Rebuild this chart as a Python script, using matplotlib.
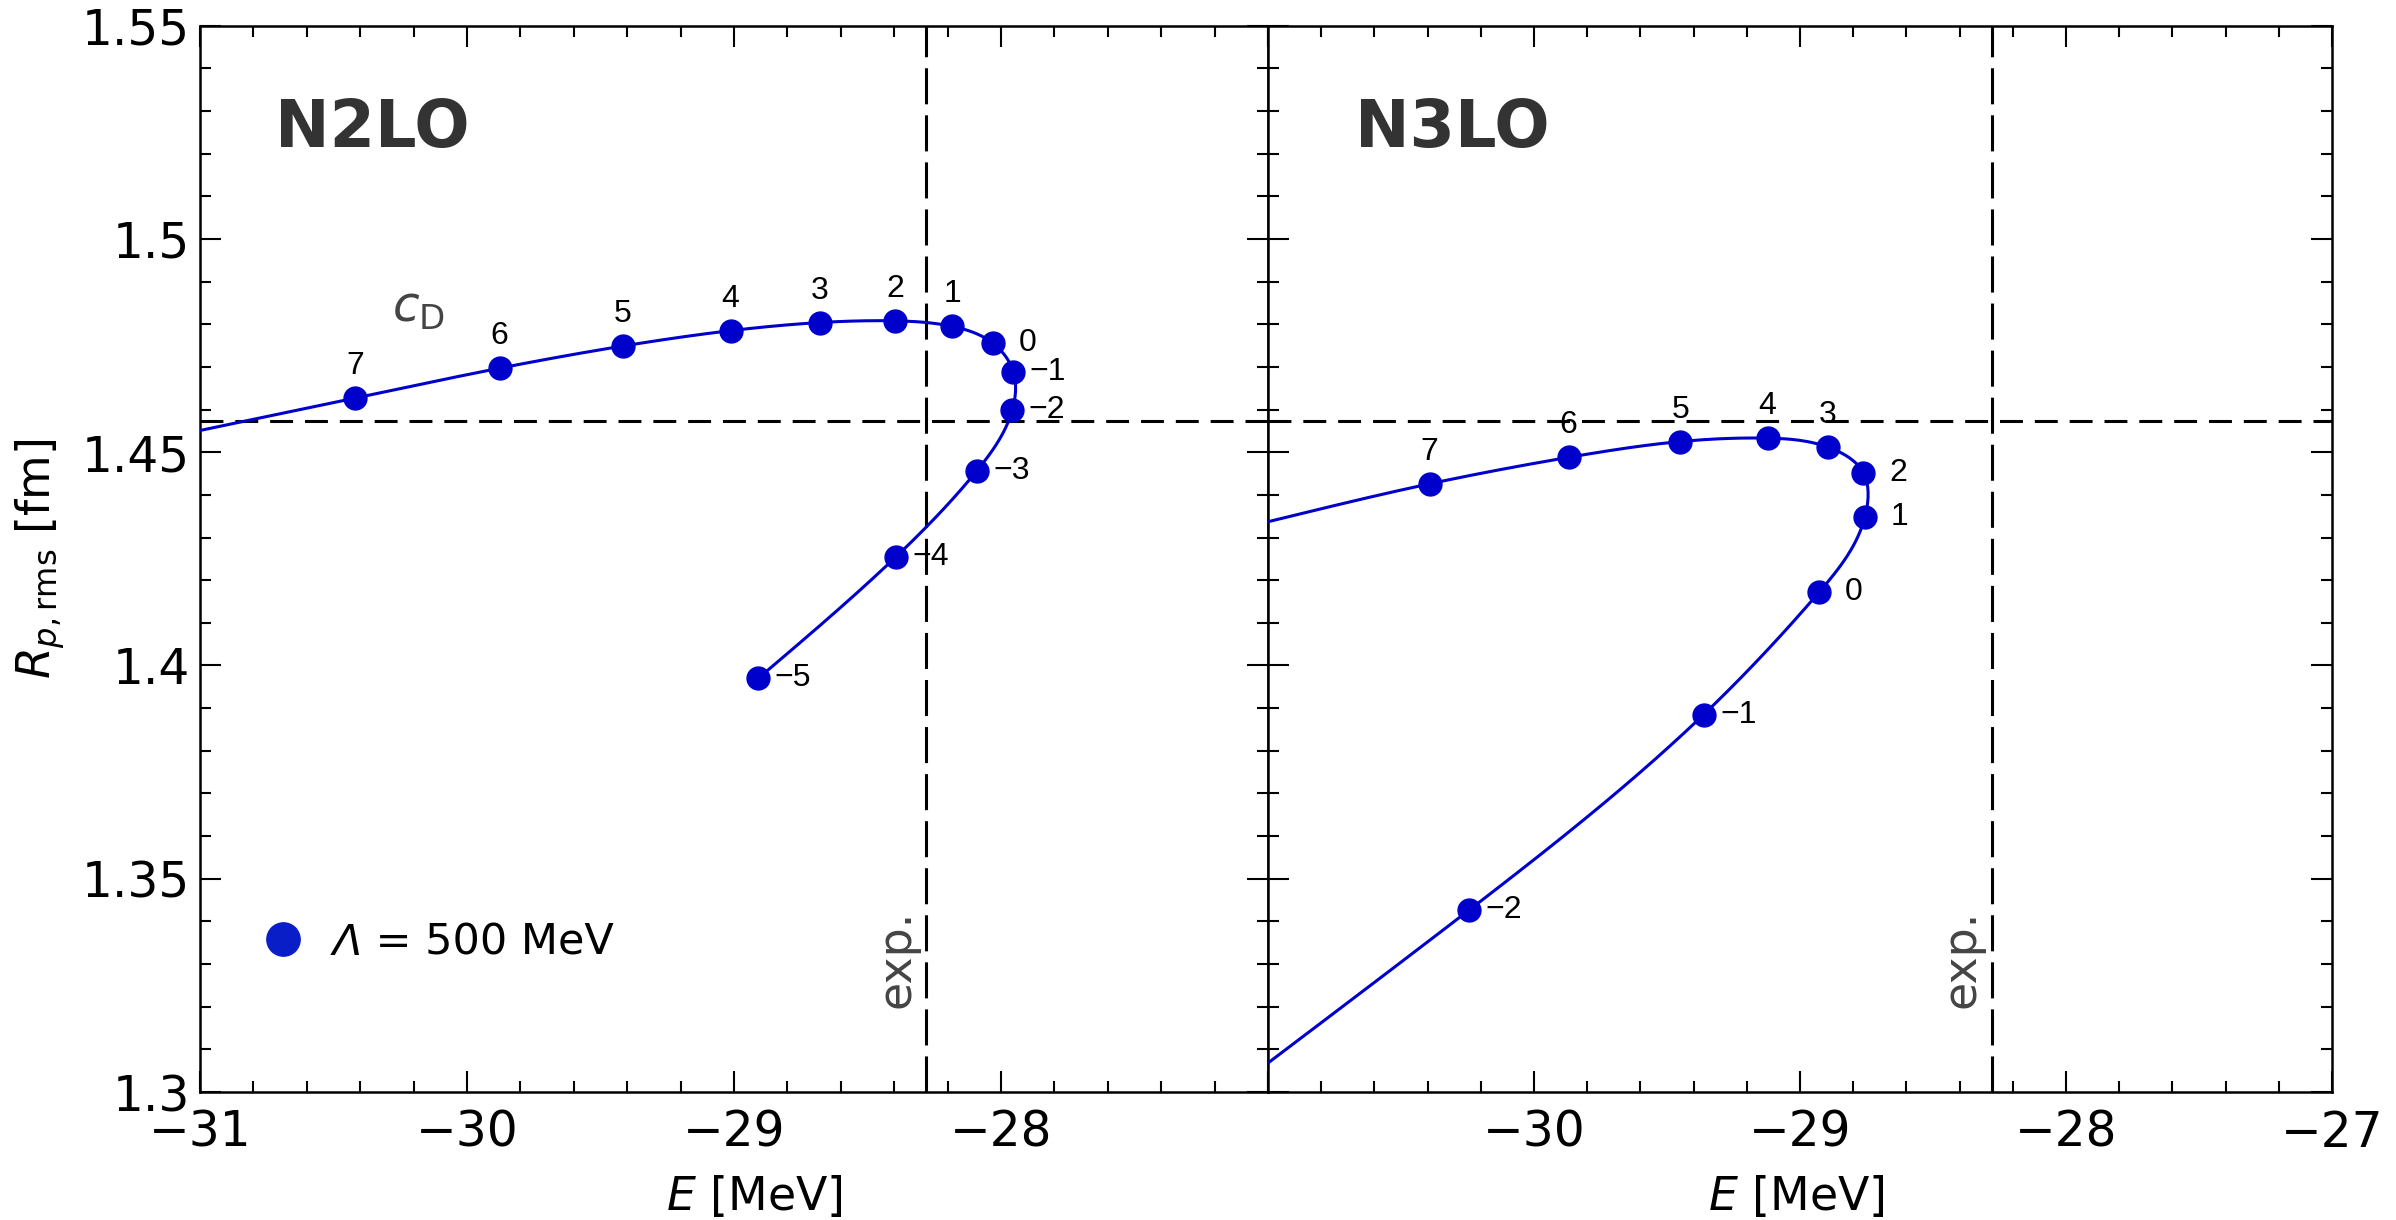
import numpy as np
import matplotlib
matplotlib.use("Agg")
import matplotlib.pyplot as plt
from matplotlib.ticker import MultipleLocator, FuncFormatter
from matplotlib.transforms import blended_transform_factory

# ---------------- data ----------------
cD = [7, 6, 5, 4, 3, 2, 1, 0, -1, -2, -3, -4, -5]
n2lo_E = [-30.419, -29.878, -29.416, -29.013, -28.679, -28.396, -28.182,
          -28.029, -27.954, -27.958, -28.091, -28.393, -28.909]
n2lo_R = [1.4627, 1.4697, 1.4749, 1.4785, 1.4804, 1.4808, 1.4795,
          1.4755, 1.4689, 1.4598, 1.4456, 1.4255, 1.3970]
# continuation of the N2LO curve beyond c_D = 7 (to the axis edge)
n2lo_tail_E = [-31.0]
n2lo_tail_R = [1.4551]

cD3 = [7, 6, 5, 4, 3, 2, 1, 0, -1, -2]
n3lo_E = [-30.392, -29.870, -29.450, -29.122, -28.895, -28.762, -28.756,
          -28.928, -29.362, -30.243]
n3lo_R = [1.4426, 1.4488, 1.4525, 1.4533, 1.4512, 1.4452, 1.4348,
          1.4172, 1.3885, 1.3427]
# continuations of the N3LO curve to the left axis edge
n3lo_tail_hi_E = [-31.0]
n3lo_tail_hi_R = [1.4337]
n3lo_tail_lo_E = [-31.0]
n3lo_tail_lo_R = [1.3068]

E_exp = -28.28
R_exp = 1.4574

xlim = (-31, -27)
ylim = (1.3, 1.55)

BLUE = "#0000cc"

# ---------------- helpers ----------------
def natural_spline(t, y, tt):
    t = np.asarray(t, float)
    y = np.asarray(y, float)
    n = len(t)
    h = np.diff(t)
    A = np.zeros((n, n))
    b = np.zeros(n)
    A[0, 0] = A[-1, -1] = 1.0
    for i in range(1, n - 1):
        A[i, i - 1] = h[i - 1]
        A[i, i] = 2 * (h[i - 1] + h[i])
        A[i, i + 1] = h[i]
        b[i] = 6 * ((y[i + 1] - y[i]) / h[i] - (y[i] - y[i - 1]) / h[i - 1])
    M = np.linalg.solve(A, b)
    idx = np.clip(np.searchsorted(t, tt) - 1, 0, n - 2)
    hi = h[idx]
    a = t[idx + 1] - tt
    bb = tt - t[idx]
    return (M[idx] * a ** 3 / (6 * hi) + M[idx + 1] * bb ** 3 / (6 * hi)
            + (y[idx] / hi - M[idx] * hi / 6) * a
            + (y[idx + 1] / hi - M[idx + 1] * hi / 6) * bb)


def smooth_curve(xs, ys, n=600):
    xs = np.asarray(xs, float)
    ys = np.asarray(ys, float)
    X = xs * 267.0
    Y = ys * 4270.0
    d = np.hypot(np.diff(X), np.diff(Y))
    t = np.concatenate([[0.0], np.cumsum(d)])
    tt = np.linspace(0, t[-1], n)
    return natural_spline(t, xs, tt), natural_spline(t, ys, tt)


def fmt_label(c):
    return str(c).replace("-", "\u2212")


plt.rcParams["mathtext.fontset"] = "dejavusans"

# ---------------- figure ----------------
W, H = 2396, 1220
fig = plt.figure(figsize=(W / 100, H / 100), dpi=100)
axL = fig.add_axes([200 / W, 128 / H, 1068 / W, 1066.3 / H])
axR = fig.add_axes([1268 / W, 128 / H, 1064 / W, 1066.3 / H], sharey=axL)

for ax in (axL, axR):
    ax.set_xlim(*xlim)
    ax.set_ylim(*ylim)
    ax.xaxis.set_major_locator(MultipleLocator(1))
    ax.xaxis.set_minor_locator(MultipleLocator(0.2))
    ax.yaxis.set_major_locator(MultipleLocator(0.05))
    ax.yaxis.set_minor_locator(MultipleLocator(0.01))
    ax.tick_params(which="both", direction="in", top=True, right=True,
                   width=1.5, color="black")
    ax.tick_params(which="major", length=15)
    ax.tick_params(which="minor", length=8)
    ax.tick_params(axis="x", labelsize=35, pad=12)
    ax.tick_params(axis="y", labelsize=35, pad=7)
    for sp in ax.spines.values():
        sp.set_linewidth(1.8)
    # experimental lines
    ax.axhline(R_exp, color="black", lw=2.2, ls=(0, (7.5, 3.9)), zorder=1)
    ax.axvline(E_exp, color="black", lw=2.2, ls=(0, (11.8, 3.6)), zorder=1)
    tr = blended_transform_factory(ax.transData, ax.transAxes)
    ax.annotate("exp.", xy=(E_exp, 0.1247), xycoords=tr, xytext=(-5, 0),
                textcoords="offset points", rotation=90, ha="right",
                va="center", fontsize=33, color="#444444",
                family="DejaVu Sans")

axL.xaxis.set_major_formatter(FuncFormatter(
    lambda v, p: "" if abs(v + 27) < 1e-6 else f"{v:g}".replace("-", "\u2212")))
axR.xaxis.set_major_formatter(FuncFormatter(
    lambda v, p: "" if abs(v + 31) < 1e-6 else f"{v:g}".replace("-", "\u2212")))
axL.yaxis.set_major_formatter(FuncFormatter(lambda v, p: f"{v:g}"))
axR.tick_params(labelleft=False)

# ---------------- N2LO ----------------
cx, cy = smooth_curve(n2lo_tail_E + n2lo_E, n2lo_tail_R + n2lo_R)
axL.plot(cx, cy, color=BLUE, lw=2.2, zorder=3, solid_capstyle="butt")
axL.plot(n2lo_E, n2lo_R, ls="none", marker="o", ms=16.5, color=BLUE,
         mec=BLUE, zorder=4)
above_min_n2lo = 1
for c, e, r in zip(cD, n2lo_E, n2lo_R):
    off = (0, 23) if c >= above_min_n2lo else (25, 0)
    axL.annotate(fmt_label(c), xy=(e, r), xytext=off,
                 textcoords="offset points", ha="center", va="center",
                 fontsize=23, family="Liberation Sans", zorder=5)

# ---------------- N3LO ----------------
cx, cy = smooth_curve(n3lo_tail_hi_E + n3lo_E + n3lo_tail_lo_E,
                      n3lo_tail_hi_R + n3lo_R + n3lo_tail_lo_R)
axR.plot(cx, cy, color=BLUE, lw=2.2, zorder=3, solid_capstyle="butt")
axR.plot(n3lo_E, n3lo_R, ls="none", marker="o", ms=16.5, color=BLUE,
         mec=BLUE, zorder=4)
above_min_n3lo = 3
for c, e, r in zip(cD3, n3lo_E, n3lo_R):
    off = (0, 23) if c >= above_min_n3lo else (25, 0)
    axR.annotate(fmt_label(c), xy=(e, r), xytext=off,
                 textcoords="offset points", ha="center", va="center",
                 fontsize=23, family="Liberation Sans", zorder=5)

# ---------------- texts ----------------
axL.text(0.0702, 0.886, "N2LO", transform=axL.transAxes, fontsize=47,
         fontweight="bold", color="#333333", family="DejaVu Sans",
         ha="left", va="baseline")
axR.text(0.0818, 0.886, "N3LO", transform=axR.transAxes, fontsize=47,
         fontweight="bold", color="#333333", family="DejaVu Sans",
         ha="left", va="baseline")
axL.text(-30.281, 1.4806, r"$c_\mathrm{D}$", fontsize=35, color="#444444",
         ha="left", va="baseline")

# legend (marker + label)
axL.plot([0.0777], [0.1435], transform=axL.transAxes, ls="none", marker="o",
         ms=24, color="#0a1ec8", mec="#0a1ec8", clip_on=False, zorder=6)
t1 = axL.text(0.1245, 0.1285, "\u039b", transform=axL.transAxes,
              fontsize=31, style="italic", family="DejaVu Sans",
              ha="left", va="baseline")
axL.annotate(" = 500 MeV", xy=(1, 0), xycoords=t1, ha="left", va="bottom",
             fontsize=31, family="DejaVu Sans")

# axis labels
axL.set_ylabel(r"$R_{p,\mathrm{rms}}$ [fm]", fontsize=33)
axL.yaxis.set_label_coords(-0.1245, 0.5)
axL.set_xlabel(r"$E$ [MeV]", fontsize=33)
axL.xaxis.set_label_coords(0.519, -0.077)
axR.set_xlabel(r"$E$ [MeV]", fontsize=33)
axR.xaxis.set_label_coords(0.497, -0.077)

fig.savefig("out.png", dpi=100)
